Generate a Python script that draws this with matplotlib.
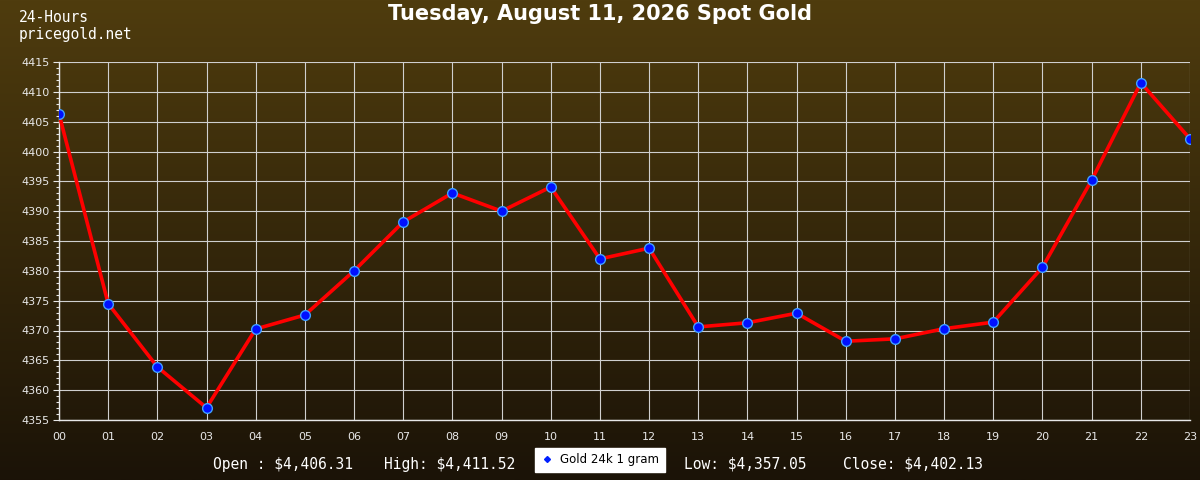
import numpy as np
import matplotlib.pyplot as plt
from matplotlib.lines import Line2D
from matplotlib.colors import LinearSegmentedColormap

hours = [f"{h:02d}" for h in range(24)]
prices = [4406.31, 4374.5, 4363.9, 4357.05, 4370.25, 4372.6, 4380.0, 4388.2,
          4393.05, 4390.0, 4394.05, 4382.0, 4383.8, 4370.6, 4371.3, 4372.9,
          4368.2, 4368.6, 4370.3, 4371.4, 4380.6, 4395.2, 4411.52, 4402.13]
yticks = [4355, 4360, 4365, 4370, 4375, 4380, 4385, 4390, 4395, 4400, 4405, 4410, 4415]

title = "Tuesday, August 11, 2026 Spot Gold"
stats = [("Open : $4,406.31", 213), ("High: $4,411.52", 384),
         ("Low: $4,357.05", 684), ("Close: $4,402.13", 843)]

fig = plt.figure(figsize=(12, 4.8), dpi=100)

# background gradient
bg = fig.add_axes([0, 0, 1, 1], zorder=-1)
grad_cmap = LinearSegmentedColormap.from_list("bg", ["#4f3c0e", "#1b1307"])
bg.imshow(np.linspace(0, 1, 256).reshape(-1, 1), cmap=grad_cmap, aspect='auto',
          extent=[0, 1, 0, 1])
bg.axis('off')

ax = fig.add_axes([59 / 1200, 1 - 420 / 480, 1131 / 1200, 358 / 480])
ax.set_facecolor('none')
x = np.arange(len(prices))
ax.plot(x, prices, color='red', lw=2.6, zorder=3)
ax.plot(x, prices, ls='none', marker='o', ms=7, mfc='#0010ff', mec='#40a0ff', mew=1, zorder=4)

ax.set_xlim(0, 23)
ax.set_ylim(4355, 4415)
ax.set_xticks(x)
ax.set_xticklabels(hours)
ax.set_yticks(yticks)
ax.set_yticks(np.arange(4355, 4416, 1), minor=True)
ax.grid(True, color='#cfcfcf', lw=0.8)
ax.set_axisbelow(True)
for s in ['top', 'right']:
    ax.spines[s].set_visible(False)
for s in ['left', 'bottom']:
    ax.spines[s].set_color('#e8e8e8')
    ax.spines[s].set_linewidth(1.0)
ax.tick_params(axis='y', which='major', length=4, width=0.8, color='#e8e8e8',
               labelcolor='#e8e8e8', labelsize=8, pad=3)
ax.tick_params(axis='y', which='minor', length=2.2, width=0.8, color='#e8e8e8')
ax.tick_params(axis='x', length=0, labelcolor='#e8e8e8', labelsize=8, pad=9)

fig.text(0.5, 0.97, title, ha='center', va='center', color='white',
         fontsize=15, fontweight='bold', family='DejaVu Sans')
fig.text(19 / 1200, 1 - 18 / 480, "24-Hours", ha='left', va='center', color='white',
         fontsize=10.5, family='DejaVu Sans Mono')
fig.text(19 / 1200, 1 - 34 / 480, "pricegold.net", ha='left', va='center', color='white',
         fontsize=10.5, family='DejaVu Sans Mono')

for label, px in stats:
    fig.text(px / 1200, 1 - 464 / 480, label, ha='left', va='center', color='white',
             fontsize=10.5, family='DejaVu Sans Mono', parse_math=False)

handle = Line2D([], [], ls='none', marker='D', ms=3, color='#0020ff')
leg = fig.legend([handle], ["Gold 24k 1 gram"], loc='center', bbox_to_anchor=(600 / 1200, 1 - 460 / 480),
                 frameon=True, fancybox=False, fontsize=8.5, handlelength=1, handletextpad=0.6,
                 borderpad=0.5, framealpha=1)
leg.get_frame().set_facecolor('white')
leg.get_frame().set_edgecolor('white')

fig.savefig("out.png", dpi=100)
